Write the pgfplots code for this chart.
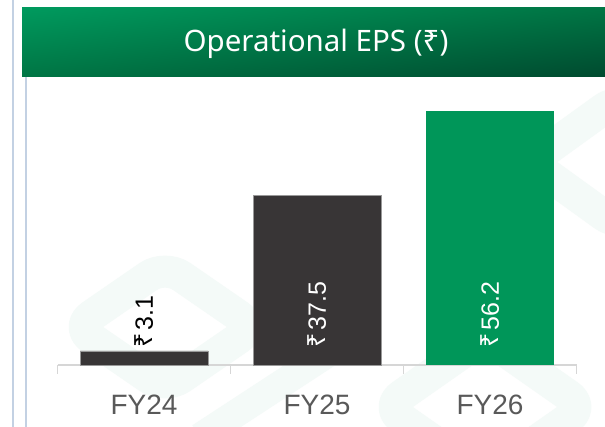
\documentclass[border=0pt]{standalone}
\usepackage{pgfplots}
\pgfplotsset{compat=1.18}
\usetikzlibrary{shadings}
\usepackage{fontspec}
\setmainfont{Liberation Sans}
\newfontfamily\notofont{Noto Sans}
\definecolor{bardark}{HTML}{383536}
\definecolor{bargreen}{HTML}{009659}
\definecolor{gl}{HTML}{009A5E}
\definecolor{gm}{HTML}{007544}
\definecolor{gd}{HTML}{004A2F}
\definecolor{lineblue}{HTML}{C3D1E3}
\definecolor{axgray}{HTML}{D6D6D6}
\definecolor{lblgray}{HTML}{595959}
\definecolor{wm}{HTML}{F4FAF8}
\begin{document}
\begin{tikzpicture}
\useasboundingbox (0pt,0pt) rectangle (605pt,427pt);
\fill[white] (0pt,0pt) rectangle (605pt,427pt);
% faint watermark shapes
\begin{scope}
\clip (27pt,0pt) rectangle (605pt,350pt);
\draw[wm, line width=32pt, line join=round, rounded corners=20pt] (75pt,100pt) -- (165pt,162pt) -- (255pt,100pt) -- (165pt,38pt) -- cycle;
\draw[wm, line width=32pt, line join=round, rounded corners=20pt] (385pt,20pt) -- (485pt,90pt) -- (585pt,20pt) -- (485pt,-50pt) -- cycle;
\draw[wm, line width=32pt, line join=round, rounded corners=20pt] (530pt,265pt) -- (620pt,330pt) -- (710pt,265pt) -- (620pt,200pt) -- cycle;
\draw[wm, line width=28pt] (200pt,-10pt) -- (330pt,75pt);
\end{scope}
% left lines
\fill[lineblue] (12pt,0pt) rectangle (14.3pt,427pt);
\fill[lineblue] (25pt,0pt) rectangle (26.7pt,350pt);
% banner
\shade[upper left=gl, lower right=gd, upper right=gm, lower left=gm] (22pt,350pt) rectangle (605pt,419.5pt);
\node[text=white, font=\notofont\fontsize{29.5}{34}\selectfont] at (316pt,383.5pt) {Operational EPS (₹)};
\begin{axis}[
  at={(144pt,62pt)}, anchor=origin,
  scale only axis, width=519pt, height=271.2pt,
  xmin=-0.5, xmax=2.5, ymin=0, ymax=60,
  axis y line=none, axis x line*=bottom,
  x axis line style={draw=axgray, line width=1.5pt, -},
  xtick={0,1,2}, xticklabels={FY24,FY25,FY26},
  major tick length=0pt,
  xticklabel style={font=\fontsize{28}{32}\selectfont, text=lblgray, yshift=-26pt},
  extra x ticks={-0.5,0.5,1.5,2.5}, extra x tick labels={},
  extra x tick style={major tick length=9pt, tick align=outside, tick style={draw=axgray, line width=1.5pt}},
  clip=false,
]
\addplot[ybar, bar width=128pt, bar shift=0pt, fill=bardark, draw=gray!80, line width=0.5pt] coordinates {(0,3.1) (1,37.5)};
\addplot[ybar, bar width=128pt, bar shift=0pt, fill=bargreen, draw=none] coordinates {(2,56.2)};
\addplot[only marks, mark=none, point meta=explicit symbolic,
  nodes near coords={{\notofont ₹}\hspace{3pt}\pgfplotspointmeta},
  every node near coord/.style={yshift=17pt, rotate=90, anchor=west, inner sep=0pt, text=black, font=\fontsize{25}{30}\selectfont}]
  coordinates {(0,0) [3.1]};
\addplot[only marks, mark=none, point meta=explicit symbolic,
  nodes near coords={{\notofont ₹}\hspace{3pt}\pgfplotspointmeta},
  every node near coord/.style={yshift=17pt, rotate=90, anchor=west, inner sep=0pt, text=white, font=\fontsize{25}{30}\selectfont}]
  coordinates {(1,0) [37.5] (2,0) [56.2]};
\end{axis}
\end{tikzpicture}
\end{document}
